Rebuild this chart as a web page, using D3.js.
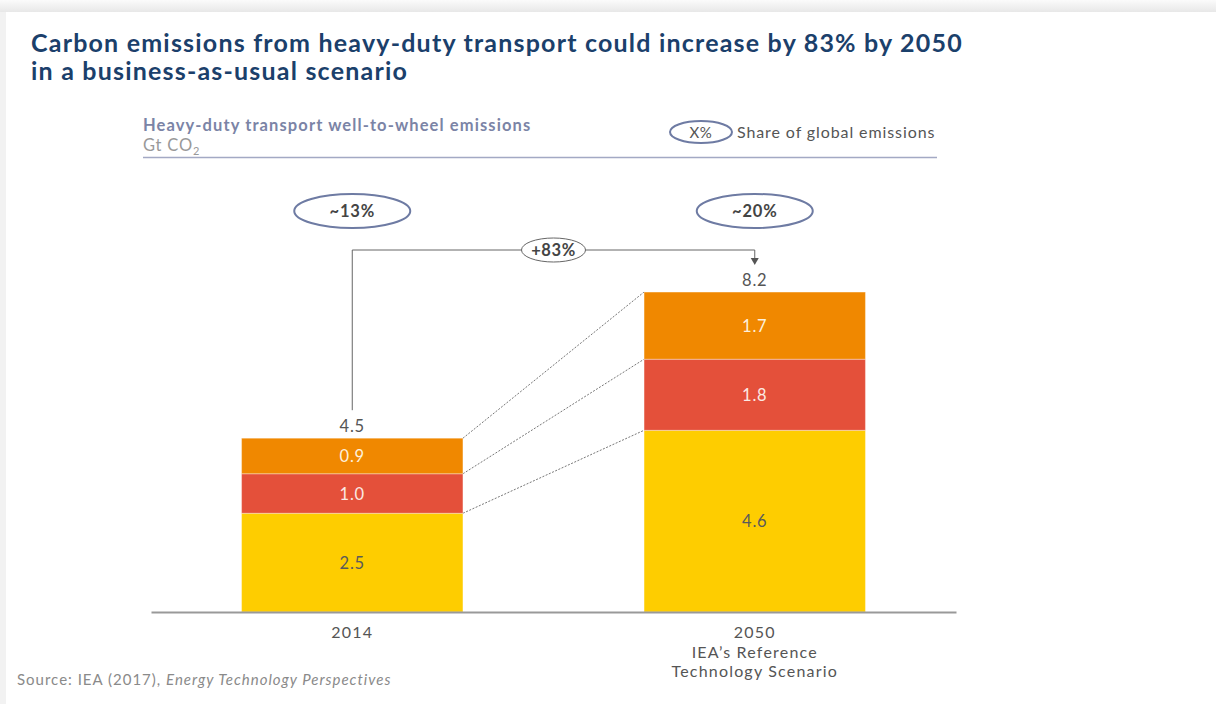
<!DOCTYPE html>
<html><head><meta charset="utf-8">
<script src="https://cdn.jsdelivr.net/npm/d3@7"></script>
<style>
html,body{margin:0;padding:0;background:#fff;}
svg{display:block;font-family:Lato, "Open Sans", sans-serif;}
</style></head>
<body>
<svg id="c" width="1216" height="704"></svg>
<script>
const categories = ["2014", "2050"];
const categoryLines = [["2014"], ["2050", "IEA’s Reference", "Technology Scenario"]];
const seriesNames = ["base", "middle", "top"];
const baseValues = [2.5, 4.6];
const middleValues = [1.0, 1.8];
const topValues = [0.9, 1.7];
const totalLabels = ["4.5", "8.2"];
const shareLabels = ["~13%", "~20%"];
const growthLabel = "+83%";
const colors = ["#FECD00", "#E4503A", "#F08800"];
const labelColors = ["#5a5a5a", "#fbe9e3", "#fdf0dc"];

const svg = d3.select("#c");

// page background / card
const defs = svg.append("defs");
const g1 = defs.append("linearGradient").attr("id","topg").attr("x1",0).attr("x2",0).attr("y1",0).attr("y2",1);
g1.append("stop").attr("offset","0%").attr("stop-color","#fbfbfb");
g1.append("stop").attr("offset","100%").attr("stop-color","#e6e6e6");
svg.append("rect").attr("x",0).attr("y",0).attr("width",1216).attr("height",13).attr("fill","url(#topg)");
svg.append("rect").attr("x",0).attr("y",12).attr("width",7).attr("height",692).attr("fill","#f2f2f2");
svg.append("rect").attr("x",6).attr("y",12).attr("width",1210).attr("height",692).attr("fill","#fff");

// title
const title = svg.append("text").attr("fill","#1B406B").attr("font-weight","bold").attr("font-size",25).attr("letter-spacing",1.2);
title.append("tspan").attr("x",31).attr("y",52).text("Carbon emissions from heavy-duty transport could increase by 83% by 2050");
title.append("tspan").attr("x",31).attr("y",80).text("in a business-as-usual scenario");

// subtitle
svg.append("text").attr("x",143).attr("y",131).attr("fill","#7B84A6").attr("font-weight","bold").attr("font-size",16.5).attr("letter-spacing",1.1)
  .text("Heavy-duty transport well-to-wheel emissions");
const unit = svg.append("text").attr("x",143).attr("y",151).attr("fill","#999").attr("font-size",16.5).attr("letter-spacing",0.8);
unit.append("tspan").text("Gt CO");
unit.append("tspan").attr("font-size",11).attr("dy",4).text("2");
svg.append("line").attr("x1",143).attr("x2",937).attr("y1",157.5).attr("y2",157.5).attr("stroke","#A3A9C4").attr("stroke-width",1.5);

// legend
svg.append("ellipse").attr("cx",701).attr("cy",132).attr("rx",31).attr("ry",11).attr("fill","none").attr("stroke","#6E7BA3").attr("stroke-width",2);
svg.append("text").attr("x",701).attr("y",138).attr("text-anchor","middle").attr("fill","#555").attr("font-size",15).attr("letter-spacing",0.5).text("X%");
svg.append("text").attr("x",737).attr("y",138).attr("fill","#555").attr("font-size",16).attr("letter-spacing",0.9).text("Share of global emissions");

// scales
const x = d3.scaleBand().domain(categories).range([151, 956]).paddingInner(0.45).paddingOuter(0.225);
const y = d3.scaleLinear().domain([0, 10]).range([612, 217]);

const data = categories.map((c, i) => ({cat: c, base: baseValues[i], middle: middleValues[i], top: topValues[i]}));
const stack = d3.stack().keys(seriesNames)(data);

// dotted connectors (top edge of each segment)
const xr = x(categories[0]) + x.bandwidth();
const xl = x(categories[1]);
stack.forEach((s) => {
  svg.append("line").attr("x1", xr).attr("x2", xl)
    .attr("y1", y(s[0][1])).attr("y2", y(s[1][1]))
    .attr("stroke","#777").attr("stroke-width",1).attr("stroke-dasharray","2,1.5");
});

// bars
stack.forEach((s, k) => {
  svg.append("g").selectAll("rect").data(s).join("rect")
    .attr("x", d => x(d.data.cat)).attr("width", x.bandwidth())
    .attr("y", d => y(d[1])).attr("height", d => y(d[0]) - y(d[1]))
    .attr("fill", colors[k]).attr("stroke","#fff").attr("stroke-opacity",0.35).attr("stroke-width",1);
  svg.append("g").selectAll("text").data(s).join("text")
    .attr("x", d => x(d.data.cat) + x.bandwidth()/2)
    .attr("y", d => (y(d[0]) + y(d[1]))/2 + 6)
    .attr("text-anchor","middle").attr("font-size",16.5).attr("letter-spacing",0.8).attr("fill", labelColors[k])
    .text(d => d3.format(".1f")(d[1]-d[0]));
});

// axis baseline
const xAxis = d3.axisBottom(x).tickSize(0).tickFormat("");
const ax = svg.append("g").attr("transform","translate(0,612)").call(xAxis);
ax.select(".domain").attr("stroke","#999").attr("stroke-width",2);
categories.forEach((c, i) => {
  const t = svg.append("text").attr("text-anchor","middle").attr("fill","#555").attr("font-size",16).attr("letter-spacing",1.2);
  categoryLines[i].forEach((ln, j) => t.append("tspan").attr("x", x(c) + x.bandwidth()/2).attr("y", 638 + j*19.5).text(ln));
});

// totals
categories.forEach((c, i) => {
  svg.append("text").attr("x", x(c) + x.bandwidth()/2).attr("y", y(stack[2][i][1]) - 6)
    .attr("text-anchor","middle").attr("fill","#555").attr("font-size",16.5).attr("letter-spacing",0.8).text(totalLabels[i]);
});

// share ellipses
categories.forEach((c, i) => {
  const cx = x(c) + x.bandwidth()/2;
  svg.append("ellipse").attr("cx",cx).attr("cy",211).attr("rx",58).attr("ry",17).attr("fill","none").attr("stroke","#6E7BA3").attr("stroke-width",2);
  svg.append("text").attr("x",cx).attr("y",217).attr("text-anchor","middle").attr("font-weight","bold").attr("fill","#444").attr("font-size",16.5).attr("letter-spacing",0.8).text(shareLabels[i]);
});

// growth bracket
const c0 = x(categories[0]) + x.bandwidth()/2;
const c1 = x(categories[1]) + x.bandwidth()/2;
const by = 250;
svg.append("path").attr("d", `M${c0},${y(stack[2][0][1]) - 28}V${by}H${c1}V${by+10}`).attr("fill","none").attr("stroke","#666").attr("stroke-width",1);
svg.append("path").attr("d", `M${c1-4},${by+8}L${c1+4},${by+8}L${c1},${by+15}Z`).attr("fill","#555");
const gm = (c0 + c1)/2;
svg.append("ellipse").attr("cx",gm).attr("cy",by).attr("rx",32).attr("ry",12).attr("fill","#fff").attr("stroke","#666").attr("stroke-width",1);
svg.append("text").attr("x",gm).attr("y",by+6).attr("text-anchor","middle").attr("font-weight","bold").attr("fill","#444").attr("font-size",16.5).attr("letter-spacing",0.6).text(growthLabel);

// source
const src = svg.append("text").attr("x",17).attr("y",685).attr("fill","#8a8a8a").attr("font-size",15).attr("letter-spacing",1.0);
src.append("tspan").text("Source: IEA (2017), ");
src.append("tspan").attr("font-style","italic").text("Energy Technology Perspectives");
</script>
</body></html>
